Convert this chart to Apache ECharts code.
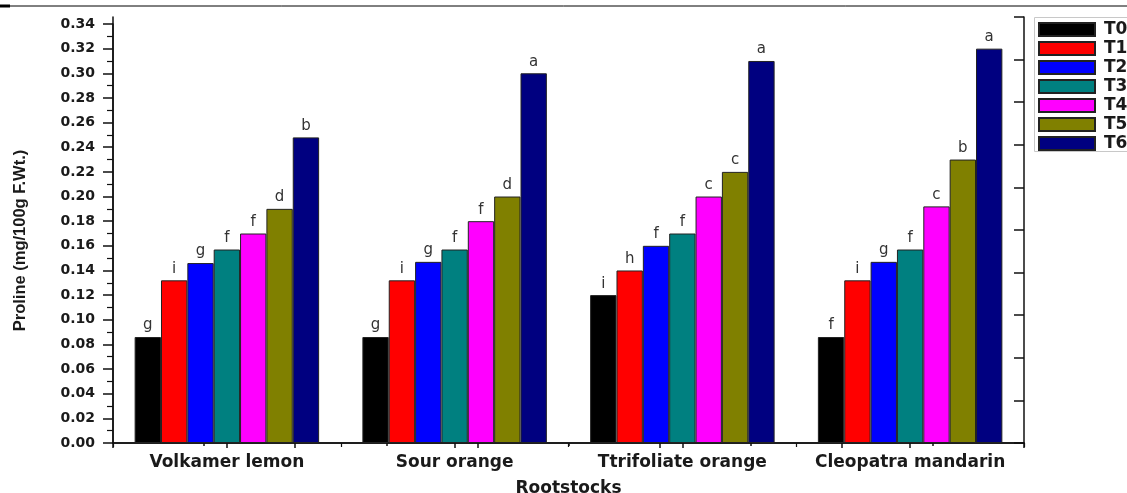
<!DOCTYPE html>
<html><head><meta charset="utf-8">
<script src="https://cdn.jsdelivr.net/npm/echarts@6/dist/echarts.min.js"></script>
<style>html,body{margin:0;padding:0;background:#fff}#c{width:1127px;height:493px}</style>
</head><body><div id="c"></div>
<script>
const categories = ['Volkamer lemon', 'Sour orange', 'Ttrifoliate orange', 'Cleopatra mandarin'];
const seriesNames = ['T0', 'T1', 'T2', 'T3', 'T4', 'T5', 'T6'];
const T0 = [0.086, 0.086, 0.120, 0.086];
const T1 = [0.132, 0.132, 0.140, 0.132];
const T2 = [0.146, 0.147, 0.160, 0.147];
const T3 = [0.157, 0.157, 0.170, 0.157];
const T4 = [0.170, 0.180, 0.200, 0.192];
const T5 = [0.190, 0.200, 0.220, 0.230];
const T6 = [0.248, 0.300, 0.310, 0.320];
const L0 = ['g', 'g', 'i', 'f'];
const L1 = ['i', 'i', 'h', 'i'];
const L2 = ['g', 'g', 'f', 'g'];
const L3 = ['f', 'f', 'f', 'f'];
const L4 = ['f', 'f', 'c', 'c'];
const L5 = ['d', 'd', 'c', 'b'];
const L6 = ['b', 'a', 'a', 'a'];
const yMin = 0, yMax = 0.34, yStep = 0.02;

const values = [T0, T1, T2, T3, T4, T5, T6];
const letters = [L0, L1, L2, L3, L4, L5, L6];
const colors = ['#000000', '#ff0000', '#0000ff', '#008080', '#ff00ff', '#808000', '#000080'];
const axisColor = '#111';
const txt = '#1a1a1a';

const chart = echarts.init(document.getElementById('c'), null, {renderer: 'canvas'});
const series = seriesNames.map((n, i) => ({
  name: n, type: 'bar', xAxisIndex: 0, yAxisIndex: 0,
  data: values[i],
  barGap: '0%', barCategoryGap: '19%',
  itemStyle: {color: colors[i], borderColor: '#222', borderWidth: 1},
  label: {
    show: true, position: 'top', distance: 4,
    fontFamily: 'DejaVu Sans', fontSize: 15, color: '#333',
    formatter: p => letters[i][p.dataIndex]
  },
  emphasis: {disabled: true}
}));

chart.setOption({
  animation: false,
  grid: [
    {left: 113, right: 103, top: 24, bottom: 50, outerBoundsMode: 'none', containLabel: false},
    {left: 113, right: 103, top: 17, bottom: 50, outerBoundsMode: 'none', containLabel: false}
  ],
  legend: {
    data: seriesNames, orient: 'vertical', left: 1034, top: 17,
    padding: [4, 4, 4, 4], itemWidth: 56, itemHeight: 13, itemGap: 2,
    icon: 'rect', borderWidth: 0,
    textStyle: {fontFamily: 'DejaVu Sans', fontWeight: 'bold', fontSize: 17, lineHeight: 17, color: txt, padding: [0, 0, 0, 4]}
  },
  xAxis: [
    {
      type: 'category', gridIndex: 0, data: categories, position: 'bottom',
      axisLine: {show: true, lineStyle: {color: axisColor, width: 1.5}},
      axisTick: {show: true, alignWithLabel: true, length: 5, lineStyle: {color: axisColor, width: 1.5}},
      axisLabel: {interval: 0, margin: 11, fontFamily: 'DejaVu Sans', fontWeight: 'bold', fontSize: 17, color: txt},
      name: 'Rootstocks', nameLocation: 'middle', nameGap: 37,
      nameTextStyle: {fontFamily: 'DejaVu Sans', fontWeight: 'bold', fontSize: 17, color: txt},
      splitLine: {show: false}
    },
    {
      type: 'category', gridIndex: 0, data: categories, position: 'bottom', offset: 0,
      axisLine: {show: false},
      axisTick: {show: true, interval: 0, alignWithLabel: false, length: 4, lineStyle: {color: axisColor, width: 1.2}},
      axisLabel: {show: false}, splitLine: {show: false}
    },
    {
      type: 'value', gridIndex: 1, position: 'top', min: 0, max: 10, interval: 2,
      axisLine: {show: true, lineStyle: {color: axisColor, width: 1.5}},
      axisTick: {show: true, inside: true, length: 5, lineStyle: {color: axisColor, width: 1.5}},
      minorTick: {show: true, splitNumber: 2, length: 3, lineStyle: {color: axisColor, width: 1.5}},
      axisLabel: {show: false}, splitLine: {show: false}, minorSplitLine: {show: false}
    }
  ],
  yAxis: [
    {
      type: 'value', gridIndex: 0, position: 'left', min: yMin, max: yMax, interval: yStep,
      axisLine: {show: true, lineStyle: {color: axisColor, width: 1.5}},
      axisTick: {show: true, length: 10, lineStyle: {color: axisColor, width: 1.5}},
      minorTick: {show: true, splitNumber: 2, length: 6, lineStyle: {color: axisColor, width: 1.2}},
      axisLabel: {margin: 18, fontFamily: 'DejaVu Sans', fontWeight: 'bold', fontSize: 14, color: txt,
        formatter: v => v.toFixed(2)},
      splitLine: {show: false}, minorSplitLine: {show: false},
      name: 'Proline (mg/100g F.Wt.)', nameLocation: 'middle', nameGap: 84, nameRotate: 90,
      nameTextStyle: {fontFamily: 'Liberation Sans', fontWeight: 'bold', fontSize: 16.5, color: txt, padding: [0, 14, 0, 0]}
    },
    {
      type: 'value', gridIndex: 1, position: 'left', min: 0, max: 10,
      axisLine: {show: true, lineStyle: {color: axisColor, width: 1.5}},
      axisTick: {show: false}, axisLabel: {show: false}, splitLine: {show: false}
    },
    {
      type: 'value', gridIndex: 1, position: 'right', min: 0, max: 10, interval: 1,
      axisLine: {show: true, lineStyle: {color: axisColor, width: 1.5}},
      axisTick: {show: true, inside: true, length: 10, lineStyle: {color: axisColor, width: 1.5}},
      axisLabel: {show: false}, splitLine: {show: false}
    }
  ],
  graphic: [
    {type: 'line', shape: {x1: 0, y1: 6, x2: 1127, y2: 6}, style: {stroke: '#000', lineWidth: 1}},
    {type: 'line', shape: {x1: 0, y1: 6, x2: 10, y2: 6}, style: {stroke: '#000', lineWidth: 3}},
    {type: 'rect', shape: {x: 1034.5, y: 17.5, width: 200, height: 134}, style: {fill: 'none', stroke: '#c8c8c8', lineWidth: 1}, z: 0}
  ],
  series: series
});
</script>
</body></html>
